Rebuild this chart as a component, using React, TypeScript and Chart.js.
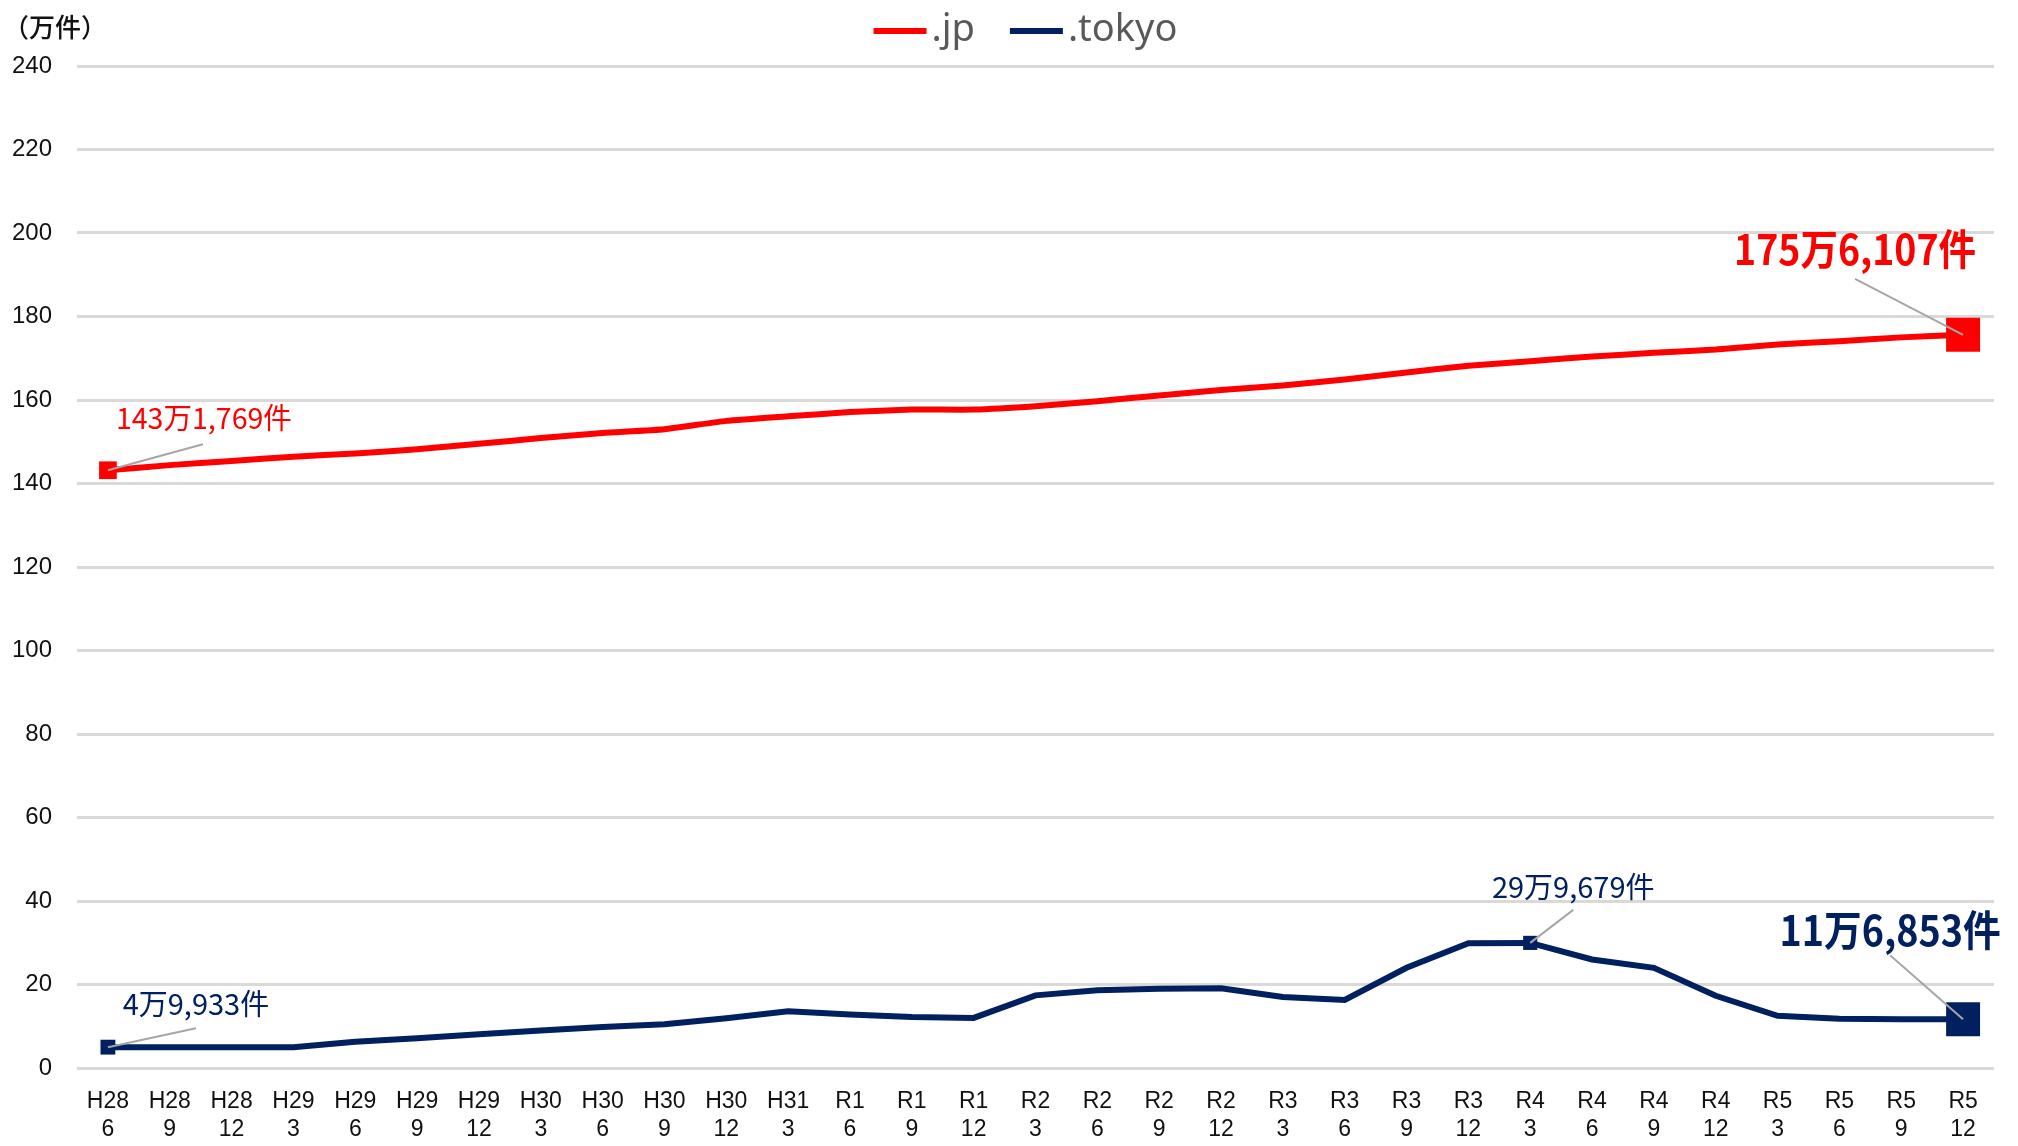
import React, { useEffect, useRef } from 'react';
import { Chart, registerables } from 'chart.js';

Chart.register(...registerables);

// ---- data ----
const periods = ['H28', 'H28', 'H28', 'H29', 'H29', 'H29', 'H29', 'H30', 'H30', 'H30', 'H30', 'H31', 'R1', 'R1', 'R1', 'R2', 'R2', 'R2', 'R2', 'R3', 'R3', 'R3', 'R3', 'R4', 'R4', 'R4', 'R4', 'R5', 'R5', 'R5', 'R5'];
const months = ['6', '9', '12', '3', '6', '9', '12', '3', '6', '9', '12', '3', '6', '9', '12', '3', '6', '9', '12', '3', '6', '9', '12', '3', '6', '9', '12', '3', '6', '9', '12'];

// 万件
const jpValues = [143.1769, 144.4, 145.4, 146.4, 147.2, 148.2, 149.5, 150.9, 152.1, 153.0, 155.0, 156.1, 157.1, 157.7, 157.7, 158.5, 159.7, 161.1, 162.4, 163.5, 164.9, 166.6, 168.2, 169.3, 170.4, 171.3, 172.1, 173.3, 174.1, 175.0, 175.6107];
const tokyoValues = [4.9933, 5.0, 5.0, 5.0, 6.3, 7.1, 8.1, 9.0, 9.8, 10.5, 11.9, 13.6, 12.8, 12.2, 12.0, 17.4, 18.6, 19.0, 19.1, 17.0, 16.3, 24.0, 29.9, 29.9679, 26.0, 24.0, 17.3, 12.5, 11.8, 11.7, 11.6853];

const seriesNames = ['.jp', '.tokyo'];
const yTicks = [0, 20, 40, 60, 80, 100, 120, 140, 160, 180, 200, 220, 240];
const yUnit = '（万件）';

const RED = '#ff0000';
const NAVY = '#002060';

function formatCount(v: number): string {
  const n = Math.round(v * 10000);
  const man = Math.floor(n / 10000);
  const rest = n % 10000;
  return `${man}万${rest.toLocaleString('en-US')}件`;
}

// callout styling: which point, label offset, leader end offset
const callouts = [
  { ds: 0, idx: 0, tx: 96, ty: -52, lx: 95, ly: -26, w: 176, size: 29, bold: false, color: RED },
  { ds: 0, idx: 30, tx: -108, ty: -86, lx: -108, ly: -56, w: 242, size: 42, bold: true, color: RED },
  { ds: 1, idx: 0, tx: 88, ty: -43, lx: 88, ly: -19, w: 149, size: 29, bold: false, color: NAVY },
  { ds: 1, idx: 23, tx: 43, ty: -56, lx: 43, ly: -33, w: 165, size: 29, bold: false, color: NAVY },
  { ds: 1, idx: 30, tx: -73, ty: -89, lx: -73, ly: -64, w: 221, size: 42, bold: true, color: NAVY },
];

const TEXT_FONT = '"Noto Sans CJK JP", "Noto Sans", sans-serif';

const overlayPlugin = {
  id: 'overlay',
  afterDraw(chart: any) {
    const ctx = chart.ctx as CanvasRenderingContext2D;
    const xs = chart.scales.x;
    const ys = chart.scales.y;
    const area = chart.chartArea;

    // callouts
    callouts.forEach((c) => {
      const val = chart.data.datasets[c.ds].data[c.idx] as number;
      const px = xs.getPixelForValue(c.idx);
      const py = ys.getPixelForValue(val);
      ctx.save();
      ctx.strokeStyle = '#a6a6a6';
      ctx.lineWidth = 2;
      ctx.beginPath();
      ctx.moveTo(px, py);
      ctx.lineTo(px + c.lx, py + c.ly);
      ctx.stroke();
      ctx.fillStyle = c.color;
      ctx.font = `${c.bold ? 'bold ' : ''}${c.size}px ${TEXT_FONT}`;
      ctx.textAlign = 'center';
      ctx.textBaseline = 'middle';
      ctx.fillText(formatCount(val), px + c.tx, py + c.ty, c.w);
      ctx.restore();
    });

    // unit label
    ctx.save();
    ctx.fillStyle = '#111';
    ctx.font = `500 26px ${TEXT_FONT}`;
    ctx.textAlign = 'left';
    ctx.textBaseline = 'middle';
    ctx.fillText(yUnit, 3, 27);
    ctx.restore();

    // legend
    ctx.save();
    ctx.font = '38px "Noto Sans", sans-serif';
    ctx.textBaseline = 'middle';
    ctx.textAlign = 'left';
    const lineLen = 53;
    const gap = 5;
    const itemGap = 35;
    const colors = [RED, NAVY];
    const widths = seriesNames.map((n) => lineLen + gap + ctx.measureText(n).width);
    const total = widths.reduce((a, b) => a + b, 0) + itemGap * (widths.length - 1);
    let x = (area.left + area.right) / 2 - 10 - total / 2;
    const y = 31;
    seriesNames.forEach((n, i) => {
      ctx.strokeStyle = colors[i];
      ctx.lineWidth = 6;
      ctx.beginPath();
      ctx.moveTo(x, y);
      ctx.lineTo(x + lineLen, y);
      ctx.stroke();
      ctx.fillStyle = '#595959';
      ctx.fillText(n, x + lineLen + gap, y - 1);
      x += widths[i] + itemGap;
    });
    ctx.restore();
  },
};

export default function App() {
  const ref = useRef<HTMLCanvasElement | null>(null);

  useEffect(() => {
    if (!ref.current) return;
    const lastIdx = periods.length - 1;
    const radiusFor = (highlight: number[]) => (ctx: any) => {
      const i = ctx.dataIndex;
      if (i === lastIdx) return 24;
      if (i === 0) return ctx.datasetIndex === 0 ? 12.5 : 10.5;
      if (highlight.includes(i)) return 10;
      return 0;
    };
    const chart = new Chart(ref.current, {
      type: 'line',
      data: {
        labels: periods.map((p, i) => [p, months[i]]),
        datasets: [
          {
            label: seriesNames[0],
            data: jpValues,
            borderColor: RED,
            backgroundColor: RED,
            borderWidth: 6,
            pointStyle: 'rect',
            pointRadius: radiusFor([]),
            pointBorderWidth: 0,
            pointBackgroundColor: RED,
            tension: 0.15,
          },
          {
            label: seriesNames[1],
            data: tokyoValues,
            borderColor: NAVY,
            backgroundColor: NAVY,
            borderWidth: 6,
            pointStyle: 'rect',
            pointRadius: radiusFor([23]),
            pointBorderWidth: 0,
            pointBackgroundColor: NAVY,
            tension: 0,
          },
        ],
      },
      options: {
        animation: false,
        responsive: false,
        devicePixelRatio: 1,
        layout: { padding: { top: 66, right: 23, left: 0, bottom: 0 } },
        plugins: {
          legend: { display: false },
          tooltip: { enabled: false },
        },
        scales: {
          x: {
            offset: true,
            grid: { display: false },
            border: { display: false },
            ticks: {
              autoSkip: false,
              maxRotation: 0,
              padding: 11,
              color: '#111',
              font: { family: '"Liberation Sans", sans-serif', size: 23, lineHeight: 1.25 },
            },
            afterFit: (s: any) => {
              s.height = 78;
            },
          },
          y: {
            min: 0,
            max: 240,
            afterBuildTicks: (s: any) => {
              s.ticks = yTicks.map((v) => ({ value: v }));
            },
            grid: { color: '#d9d9d9', lineWidth: 3, drawTicks: false },
            border: { display: false },
            ticks: {
              padding: 25,
              color: '#111',
              font: { family: '"Liberation Sans", sans-serif', size: 24 },
            },
            afterFit: (s: any) => {
              s.width = 77;
            },
          },
        },
      },
      plugins: [overlayPlugin],
    });
    return () => chart.destroy();
  }, []);

  return (
    <div style={{ position: 'fixed', left: 0, top: 0, width: 2018, height: 1146, background: '#fff' }}>
      <canvas ref={ref} width={2018} height={1146} style={{ width: 2018, height: 1146 }} />
    </div>
  );
}
